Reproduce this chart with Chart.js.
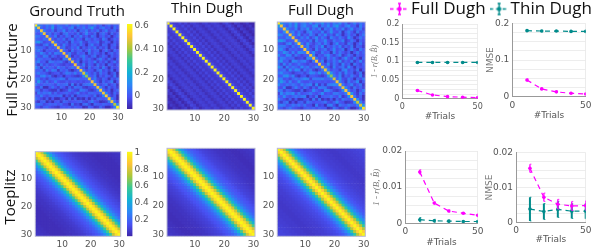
<!DOCTYPE html>
<html>
<head>
<meta charset="utf-8">
<script src="https://cdn.jsdelivr.net/npm/chart.js@4"></script>
<style>
html, body { margin: 0; padding: 0; background: #fff; }
#page { position: relative; width: 598px; height: 249px; overflow: hidden; filter: blur(0.35px); }
canvas { position: absolute; left: 0; top: 0; }
.lbl { position: absolute; transform: translate(-50%, -50%); font-family: "Open Sans"; font-size: 15px; color: #111; white-space: nowrap; }
.rot { transform: translate(-50%, -50%) rotate(-90deg); }
</style>
</head>
<body>
<div id="page">
  <div class="lbl" style="left:77px;top:9.5px">Ground Truth</div>
  <div class="lbl" style="left:207px;top:7px">Thin Dugh</div>
  <div class="lbl" style="left:321px;top:8.5px">Full Dugh</div>
  <div class="lbl rot" style="left:11px;top:70px">Full Structure</div>
  <div class="lbl rot" style="left:8.5px;top:197px">Toeplitz</div>
</div>
<script>
// parula, 8 stops
const parula = ['#3e26a8', '#4852f4', '#2d87f7', '#12b1d6', '#37c897', '#abc739', '#fec338', '#f9fb15'];
const MAGENTA = '#ff00ff';
const TEAL = '#008b8b';
const TICK_COLOR = '#555';
const TICK_FONT = 'DejaVu Sans';

// ---- heatmap values, in hundredths -------------------------------
const gtDiag = [60,50,49,50,50,51,49,52,50,49,51,50,50,49,50,50,50,46,38,47,51,49,50,52,50,53,52,50,42,60];
const gtRows = [
  [13,5,1,7,3,9,-1,5,3,1,7,-1,5,3,9,1,3,-1,5,1,7,-1,3,-5,1,5,-3,3,1],
  [3,-1,5,1,14,-3,3,7,1,-1,5,9,-5,3,1,7,-1,5,14,1,-3,3,7,-1,1,-7,5,-1],
  [7,1,-1,5,-5,3,1,9,-3,3,-1,5,-7,3,1,7,-3,3,-1,5,-5,1,7,-3,1,3,-5],
  [1,5,-3,3,-1,-7,3,7,-1,1,-3,5,-5,1,9,-1,-3,3,-9,1,5,-1,-7,3,-3,1],
  [3,-1,7,-5,1,-3,5,1,-7,3,-1,7,-3,1,-5,5,1,-9,-1,3,-3,1,-9,-1,3],
  [1,-3,3,-1,5,-5,1,7,-3,3,-1,-7,5,1,-3,3,-1,-5,7,1,-9,-3,3,-1],
  [5,-1,1,-3,3,-7,5,-1,1,7,-3,-5,3,-1,1,5,-7,-3,3,-1,-9,1,-3],
  [3,-3,7,-1,-5,1,3,-3,5,-1,-9,1,7,-3,-1,-7,3,1,-9,-1,3,-5],
  [1,5,-5,-3,3,-1,7,-7,1,-3,3,-1,5,-5,1,-3,3,-9,1,-1,-7],
  [3,-1,-7,5,-3,1,3,-5,-1,7,-3,1,3,-9,-1,5,-3,-7,3,-1],
  [1,7,-3,-5,3,-1,1,-9,5,-3,3,-1,-5,1,-9,-1,3,-3,1],
  [5,-7,-1,-3,3,7,-1,-5,1,5,-7,-3,3,-1,-9,1,-3,-1],
  [3,-3,1,-5,5,-1,3,-3,-7,1,7,-1,-5,3,-3,-9,1],
  [-1,5,-9,1,-3,3,-1,7,-5,1,-3,3,-7,-1,5,-3],
  [1,-3,7,-5,3,-1,-7,5,-3,1,-9,3,-1,-5,1],
  [3,-1,-7,5,-3,1,3,-5,7,-1,-9,1,-3,-1],
  [5,-3,1,-1,-7,3,7,-3,1,-5,3,-9,-1],
  [9,1,-3,3,-5,5,-1,1,-9,-3,3,-9],
  [3,-1,5,-7,1,-3,3,-1,-5,5,-7],
  [1,7,-3,-5,3,-1,-9,1,-3,3],
  [5,-1,-7,3,-3,1,7,-9,-1],
  [3,-3,1,5,-5,-1,3,-7],
  [7,-1,-7,3,-3,1,-5],
  [5,-3,1,-9,-1,3],
  [9,-1,-7,3,-3],
  [3,-5,1,-9],
  [7,-1,-9],
  [5,-3],
  [9]
];
const fdDiag = [58,50,50,49,51,50,50,52,49,50,51,49,50,50,49,48,49,44,37,46,50,50,49,51,51,52,50,44,46,58];
const fdRows = [
  [14,6,4,10,2,12,0,6,8,2,10,0,6,4,12,2,6,0,8,4,10,0,6,-4,2,8,0,6,2],
  [6,0,8,2,14,-2,6,10,2,0,8,12,-4,6,2,10,0,8,14,2,-2,6,10,0,2,-6,8,0],
  [10,2,0,8,-4,6,2,12,-2,6,0,8,-6,6,2,10,-2,6,0,8,-4,2,10,-2,2,6,-4],
  [4,8,-2,6,0,-6,6,10,0,2,-2,8,-4,2,12,0,-2,6,-8,2,8,0,-6,6,-2,2],
  [6,0,10,-4,2,-2,8,2,-6,6,0,10,-2,2,-4,8,2,-8,0,6,-2,2,-9,0,6],
  [2,-2,6,0,8,-4,2,10,-2,6,0,-6,8,2,-2,6,0,-4,10,2,-8,-2,6,0],
  [8,0,2,-2,6,-6,8,0,2,10,-2,-4,6,0,2,8,-6,-2,6,0,-9,2,-2],
  [6,-2,10,0,-4,2,6,-2,8,0,-8,2,10,-2,0,-6,6,2,-9,0,6,-4],
  [2,8,-4,-2,6,0,10,-6,2,-2,6,0,8,-4,2,-2,6,-8,2,0,-6],
  [6,0,-6,8,-2,2,6,-4,0,10,-2,2,6,-9,0,8,-2,-6,6,0],
  [2,10,-2,-4,6,0,2,-8,8,-2,6,0,-4,2,-9,0,6,-2,2],
  [8,-6,0,-2,6,10,0,-4,2,8,-6,-2,6,0,-8,2,-2,0],
  [6,-2,2,-4,8,0,6,-2,-6,2,10,0,-4,6,-2,-9,2],
  [0,8,-8,2,-2,6,0,10,-4,2,-2,6,-6,0,8,-2],
  [2,-2,10,-4,6,0,-6,8,-2,2,-9,6,0,-4,2],
  [6,0,-6,8,-2,2,6,-4,10,0,-8,2,-2,0],
  [8,-2,2,0,-6,6,10,-2,2,-4,6,-9,0],
  [12,2,-2,6,-4,8,0,2,-8,-2,6,-9],
  [6,0,8,-6,2,-2,6,0,-4,8,-6],
  [2,10,-2,-4,6,0,-9,2,-2,6],
  [8,0,-6,6,-2,2,10,-8,0],
  [6,-2,2,8,-4,0,6,-6],
  [10,0,-6,6,-2,2,-4],
  [8,-2,2,-8,0,6],
  [12,0,-6,6,-2],
  [6,-4,2,-9],
  [10,0,-8],
  [8,-2],
  [12]
];
// toeplitz panels: value per distance from the diagonal
const thinFullLag = [60,-3,-6,-7,-4,-8,-5,-9,-6,-5,-7,-9,-6,-5,-8,-6,-5,-7,-10,-6,-4,-8,-11,-6,-8,-11,-9,-7,-11,-11];
const gtToepLag = [100,92,76,58,42,30,23,18,15,13,11,10,8,7,6,5,5,4,4,3,3,3,3,3,3,4,4,5,5,6];
const thinToepLag = [100,93,78,60,44,32,24,19,16,14,12,10,9,8,7,6,5,5,4,4,4,3,3,3,4,4,5,5,6,6];
const fullToepLag = [100,90,74,56,40,29,22,17,14,12,11,10,9,8,8,7,7,6,6,6,7,7,7,8,8,9,9,10,10,11];

// ---- line panel values -------------------------------------------
const trials = [10, 20, 30, 40, 50];
const tlFull = [0.022, 0.01, 0.0055, 0.004, 0.003];
const tlFullErr = [0.002, 0.001, 0.001, 0.001, 0.001];
const tlThin = [0.097, 0.097, 0.097, 0.097, 0.097];
const tlThinErr = [0.001, 0.001, 0.001, 0.001, 0.001];
const trFull = [0.046, 0.022, 0.014, 0.01, 0.008];
const trFullErr = [0.003, 0.002, 0.002, 0.001, 0.001];
const trThin = [0.18, 0.179, 0.179, 0.178, 0.178];
const trThinErr = [0.002, 0.002, 0.001, 0.001, 0.001];
const blFull = [0.0142, 0.0056, 0.0034, 0.0028, 0.0022];
const blFullErr = [0.0006, 0.0003, 0.0003, 0.0002, 0.0003];
const blThin = [0.001, 0.0007, 0.0006, 0.0005, 0.0005];
const blThinErr = [0.0006, 0.0004, 0.0003, 0.0002, 0.0002];
const brFull = [0.0155, 0.0072, 0.0052, 0.0047, 0.0048];
const brFullErr = [0.0012, 0.0012, 0.0014, 0.0013, 0.0014];
const brThin = [0.0038, 0.0031, 0.0037, 0.0032, 0.0032];
const brThinErr = [0.0034, 0.0023, 0.0023, 0.0021, 0.0022];

const heatTicks = [10, 20, 30];
const cbarTicksTop = [0, 0.2, 0.4, 0.6];
const cbarTicksBottom = [0.2, 0.4, 0.6, 0.8, 1];
const ticksTL = [0,0.0125,0.025,0.0375,0.05,0.0625,0.075,0.0875,0.1,0.1125,0.125,0.1375,0.15,0.1625,0.175,0.1875,0.2];
const labelsTL = [0, 0.05, 0.1, 0.15, 0.2];
const ticksTR = [0,0.025,0.05,0.075,0.1,0.125,0.15,0.175,0.2];
const labelsTR = [0, 0.1, 0.2];
const ticksB = [0,0.0025,0.005,0.0075,0.01,0.0125,0.015,0.0175,0.02];
const labelsB = [0, 0.01, 0.02];

function symmetric(diag, rows) {
  return diag.map((d, r) => diag.map((_, c) => {
    if (r === c) return d / 100;
    const a = Math.min(r, c), b = Math.max(r, c);
    return rows[a][b - a - 1] / 100;
  }));
}
function toeplitz(lag) {
  return lag.map((_, r) => lag.map((_, c) => lag[Math.abs(r - c)] / 100));
}
function hexRgb(h) {
  return [1, 3, 5].map(i => parseInt(h.slice(i, i + 2), 16));
}
function colorOf(v, lo, hi) {
  const t = Math.max(0, Math.min(1, (v - lo) / (hi - lo))) * (parula.length - 1);
  const i = Math.min(parula.length - 2, Math.floor(t));
  const a = hexRgb(parula[i]), b = hexRgb(parula[i + 1]);
  const m = a.map((x, k) => Math.round(x + (b[k] - x) * (t - i)));
  return `rgb(${m[0]},${m[1]},${m[2]})`;
}
function newCanvas(w, h) {
  const c = document.createElement('canvas');
  c.width = w || 598;
  c.height = h || 249;
  document.getElementById('page').appendChild(c);
  return c;
}
function setTicks(list) {
  return s => { s.ticks = list.map(v => ({ value: v })); };
}
function fixWidth(w) {
  return s => { s.width = w; s.paddingTop = 0; s.paddingBottom = 0; };
}
function fixHeight(h) {
  return s => { s.height = h; s.paddingLeft = 0; s.paddingRight = 0; };
}
function tickOpts(size, padding, extra) {
  return Object.assign({
    color: TICK_COLOR,
    padding: padding,
    autoSkip: false,
    maxRotation: 0,
    callback: v => String(v),
    font: { family: TICK_FONT, size: size }
  }, extra);
}

const frame = {
  id: 'frame',
  afterDraw(chart, args, opts) {
    const a = chart.chartArea, ctx = chart.ctx;
    ctx.save();
    ctx.strokeStyle = opts.color;
    ctx.lineWidth = 1;
    ctx.strokeRect(a.left, a.top, a.width, a.height);
    ctx.restore();
  }
};

function heatmap(matrix, rect, lo, hi) {
  const pts = [], colors = [];
  matrix.forEach((row, r) => row.forEach((v, c) => {
    pts.push({ x: c + 1, y: r + 1 });
    colors.push(colorOf(v, lo, hi));
  }));
  const W = 24, H = 20;
  new Chart(newCanvas(), {
    type: 'scatter',
    data: { datasets: [{
      data: pts,
      pointStyle: 'rect',
      pointBackgroundColor: colors,
      pointBorderWidth: 0,
      pointRadius: c => c.chart.chartArea ? c.chart.chartArea.width / 30 * Math.SQRT1_2 + 0.5 : 1
    }] },
    options: {
      responsive: false,
      animation: false,
      layout: { padding: { left: rect[0] - W, top: rect[1], right: 598 - rect[2], bottom: 249 - rect[3] - H } },
      plugins: { legend: { display: false }, tooltip: { enabled: false }, frame: { color: '#b6b6d6' } },
      scales: {
        x: {
          type: 'linear', min: 0.5, max: 30.5,
          grid: { display: false, drawTicks: false }, border: { display: false },
          afterBuildTicks: setTicks(heatTicks), afterFit: fixHeight(H),
          ticks: tickOpts(9, 3)
        },
        y: {
          type: 'linear', min: 0.5, max: 30.5, reverse: true,
          grid: { display: false, drawTicks: false }, border: { display: false },
          afterBuildTicks: setTicks(heatTicks), afterFit: fixWidth(W),
          ticks: tickOpts(9, 3)
        }
      }
    },
    plugins: [frame]
  });
}

function colorbar(rect, lo, hi, ticks) {
  const W = 24;
  new Chart(newCanvas(), {
    type: 'bar',
    data: { labels: [''], datasets: [{
      data: [[lo, hi]],
      barPercentage: 1,
      categoryPercentage: 1,
      backgroundColor: c => {
        const a = c.chart.chartArea;
        if (!a) return parula[0];
        const g = c.chart.ctx.createLinearGradient(0, a.bottom, 0, a.top);
        parula.forEach((p, i) => g.addColorStop(i / (parula.length - 1), p));
        return g;
      }
    }] },
    options: {
      responsive: false,
      animation: false,
      layout: { padding: { left: rect[0], top: rect[1], right: 598 - rect[2] - W, bottom: 249 - rect[3] } },
      plugins: { legend: { display: false }, tooltip: { enabled: false } },
      scales: {
        x: { display: false },
        y: {
          position: 'right', min: lo, max: hi,
          grid: { display: false, drawTicks: false }, border: { display: false },
          afterBuildTicks: setTicks(ticks), afterFit: fixWidth(W),
          ticks: tickOpts(9, 2)
        }
      }
    }
  });
}

function errorData(ys, errs) {
  const out = [];
  trials.forEach((x, i) => {
    out.push({ x: x, y: ys[i] - errs[i] }, { x: x, y: ys[i] + errs[i] }, { x: x, y: null });
  });
  return out;
}
function mainSeries(name, ys, color) {
  return {
    label: name, data: trials.map((x, i) => ({ x: x, y: ys[i] })), showLine: true,
    borderColor: color, backgroundColor: color, borderWidth: 1.2, borderDash: [5, 4],
    pointRadius: 1.8, pointBorderWidth: 0
  };
}
function errSeries(ys, errs, color, width) {
  return {
    data: errorData(ys, errs), showLine: true, spanGaps: false,
    borderColor: color, backgroundColor: color, borderWidth: width,
    pointStyle: 'dash', pointRadius: 1.5, pointBorderColor: color, pointBorderWidth: 0.8
  };
}

function linePanel(rect, cfg) {
  const W = rect[0] - cfg.titleX + 5, H = cfg.boxH;
  new Chart(newCanvas(), {
    type: 'scatter',
    data: { datasets: [
      mainSeries('Full Dugh', cfg.full, MAGENTA),
      errSeries(cfg.full, cfg.fullErr, MAGENTA, 1.3),
      mainSeries('Thin Dugh', cfg.thin, TEAL),
      errSeries(cfg.thin, cfg.thinErr, TEAL, cfg.thinBar)
    ] },
    options: {
      responsive: false,
      animation: false,
      layout: { padding: { left: rect[0] - W, top: rect[1], right: 598 - rect[2], bottom: 249 - rect[3] - H } },
      plugins: { legend: { display: false }, tooltip: { enabled: false } },
      scales: {
        x: {
          type: 'linear', min: 0, max: 50,
          grid: { color: '#ececec', drawTicks: false },
          border: { color: '#999' },
          afterBuildTicks: setTicks([0, 50]), afterFit: fixHeight(H),
          ticks: tickOpts(cfg.font, 3),
          title: { display: true, text: '#Trials', color: TICK_COLOR, padding: 0, font: { family: TICK_FONT, size: 9 } }
        },
        y: {
          type: 'linear', min: 0, max: cfg.ticks[cfg.ticks.length - 1],
          grid: { color: '#e8e8e8', drawTicks: false, lineWidth: 0.8 },
          border: { color: '#999' },
          afterBuildTicks: setTicks(cfg.ticks), afterFit: fixWidth(W),
          ticks: tickOpts(cfg.font, 3, { callback: v => cfg.labels.includes(v) ? String(v) : '' }),
          title: {
            display: true, text: cfg.yTitle, color: '#777', padding: 0,
            font: { family: cfg.yFont, size: cfg.ySize, style: cfg.yStyle }
          }
        }
      }
    }
  });
}

// swatch drawn into a small canvas, used as legend point style
function swatch(color) {
  const c = document.createElement('canvas');
  c.width = 19; c.height = 15;
  const g = c.getContext('2d');
  g.strokeStyle = color; g.fillStyle = color;
  g.lineWidth = 1.4;
  g.setLineDash([3.5, 3]);
  g.beginPath(); g.moveTo(0, 7.5); g.lineTo(19, 7.5); g.stroke();
  g.setLineDash([]);
  g.beginPath(); g.moveTo(9.5, 2); g.lineTo(9.5, 13);
  g.moveTo(8, 2); g.lineTo(11, 2); g.moveTo(8, 13); g.lineTo(11, 13); g.stroke();
  g.beginPath(); g.arc(9.5, 7.5, 2.2, 0, Math.PI * 2); g.fill();
  return c;
}

function legendChart() {
  const c = newCanvas(240, 100);
  c.style.left = '386px';
  c.style.top = '-10px';
  new Chart(c, {
    type: 'line',
    data: { labels: [], datasets: [
      { label: 'Full Dugh', data: [], pointStyle: swatch(MAGENTA), borderColor: MAGENTA },
      { label: 'Thin Dugh', data: [], pointStyle: swatch(TEAL), borderColor: TEAL }
    ] },
    options: {
      responsive: false,
      animation: false,
      scales: { x: { display: false }, y: { display: false } },
      plugins: {
        tooltip: { enabled: false },
        legend: {
          align: 'start',
          labels: {
            usePointStyle: true, pointStyleWidth: 6, padding: 10.5, color: '#111',
            font: { family: 'Open Sans', size: 17 }
          }
        }
      }
    }
  });
}

// ---- top row ---------------------------------------------------
const loTop = -0.115, hiTop = 0.615;
heatmap(symmetric(gtDiag, gtRows), [34.7, 24, 119.3, 109], loTop, hiTop);
colorbar([127, 24, 132.5, 109], loTop, hiTop, cbarTicksTop);
heatmap(toeplitz(thinFullLag), [167, 22, 255, 110], loTop, hiTop);
heatmap(symmetric(fdDiag, fdRows), [277.3, 22, 365.3, 110], loTop, hiTop);

// ---- bottom row ------------------------------------------------
const loBot = 0, hiBot = 1.01;
heatmap(toeplitz(gtToepLag), [35.3, 151.7, 120.7, 236.3], loBot, hiBot);
colorbar([127, 151.7, 132.5, 236.3], loBot, hiBot, cbarTicksBottom);
heatmap(toeplitz(thinToepLag), [167, 148.3, 255, 236.3], loBot, hiBot);
heatmap(toeplitz(fullToepLag), [277.3, 148.3, 365.3, 236.3], loBot, hiBot);

// ---- line panels -----------------------------------------------
const corrTitle = '1 - r(B, B\u0302)';
linePanel([402.3, 24, 477.7, 98.7], {
  full: tlFull, fullErr: tlFullErr, thin: tlThin, thinErr: tlThinErr, thinBar: 1.2,
  ticks: ticksTL, labels: labelsTL, font: 8, boxH: 23,
  yTitle: corrTitle, yFont: 'Liberation Serif', ySize: 8, yStyle: 'italic', titleX: 375
});
linePanel([512.3, 23.3, 585.7, 97], {
  full: trFull, fullErr: trFullErr, thin: trThin, thinErr: trThinErr, thinBar: 1.2,
  ticks: ticksTR, labels: labelsTR, font: 9, boxH: 24,
  yTitle: 'NMSE', yFont: TICK_FONT, ySize: 9, yStyle: 'normal', titleX: 490
});
linePanel([405.3, 151, 477.7, 223.3], {
  full: blFull, fullErr: blFullErr, thin: blThin, thinErr: blThinErr, thinBar: 1.4,
  ticks: ticksB, labels: labelsB, font: 9, boxH: 24.5,
  yTitle: corrTitle, yFont: 'Liberation Serif', ySize: 9, yStyle: 'italic', titleX: 376
});
linePanel([516, 152.7, 585.7, 222.3], {
  full: brFull, fullErr: brFullErr, thin: brThin, thinErr: brThinErr, thinBar: 2,
  ticks: ticksB, labels: labelsB, font: 9, boxH: 23,
  yTitle: 'NMSE', yFont: TICK_FONT, ySize: 9, yStyle: 'normal', titleX: 489
});

legendChart();
</script>
</body>
</html>
